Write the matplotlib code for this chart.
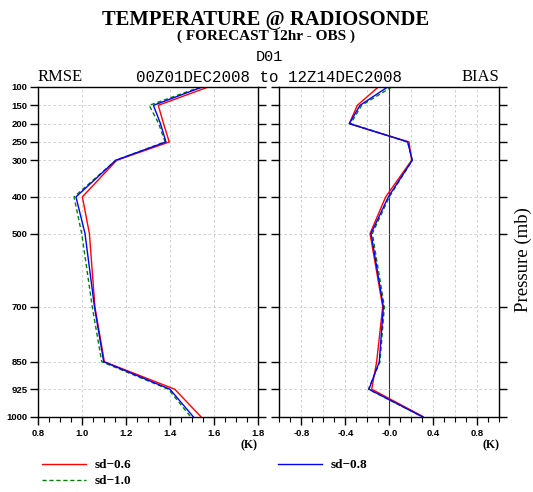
import matplotlib
matplotlib.use("Agg")
import matplotlib.pyplot as plt
from matplotlib.ticker import MultipleLocator, FixedLocator

# pressure levels (mb)
levels = [100, 150, 200, 250, 300, 400, 500, 700, 850, 925, 1000]

# RMSE (K)
rmse_sd06 = [1.575, 1.348, 1.372, 1.398, 1.159, 1.003, 1.035, 1.060, 1.103, 1.423, 1.542]
rmse_sd08 = [1.548, 1.326, 1.358, 1.383, 1.155, 0.974, 1.015, 1.058, 1.100, 1.401, 1.507]
rmse_sd10 = [1.540, 1.307, 1.350, 1.379, 1.155, 0.965, 1.000, 1.048, 1.091, 1.394, 1.495]

# BIAS (K)
bias_sd06 = [-0.100, -0.290, -0.364, 0.179, 0.203, -0.033, -0.175, -0.060, -0.115, -0.160, 0.309]
bias_sd08 = [-0.015, -0.266, -0.364, 0.167, 0.209, -0.009, -0.166, -0.054, -0.091, -0.185, 0.300]
bias_sd10 = [0.022, -0.251, -0.351, 0.167, 0.209, 0.000, -0.154, -0.045, -0.085, -0.190, 0.300]

rmse_ticks = [0.8, 1.0, 1.2, 1.4, 1.6, 1.8]
bias_ticks = [-0.8, -0.4, 0.0, 0.4, 0.8]
bias_labels = ["-0.8", "-0.4", "-0.0", "0.4", "0.8"]

W, H = 533, 492
fig = plt.figure(figsize=(W / 100, H / 100), dpi=100)

serif = "Liberation Serif"
mono = "Liberation Mono"
sans = "Liberation Sans"
gridc = "#c8c8c8"


def px(x, y):
    return x / W, 1 - y / H


def style_axes(ax):
    ax.set_ylim(1000, 100)
    ax.yaxis.set_major_locator(FixedLocator(levels))
    ax.tick_params(axis="y", which="both", direction="out", length=6, width=1,
                   left=True, right=True, pad=1.5, labelsize=6.8)
    ax.tick_params(axis="x", which="major", direction="out", length=6, width=1,
                   top=False, pad=2.5, labelsize=6.8)
    ax.tick_params(axis="x", which="minor", direction="out", length=3.5, width=0.8,
                   top=False)
    for lab in ax.get_xticklabels() + ax.get_yticklabels():
        lab.set_fontfamily(sans)
        lab.set_fontweight("bold")
    for sp in ax.spines.values():
        sp.set_linewidth(1.0)
    ax.grid(True, which="major", axis="y", color=gridc, ls=(0, (3, 3)), lw=0.6)


# ---- RMSE panel
ax1 = fig.add_axes([37.7 / W, 1 - 416.7 / H, 220 / W, 329.7 / H])
ax1.set_xlim(0.8, 1.8)
ax1.set_xticks(rmse_ticks)
ax1.xaxis.set_minor_locator(MultipleLocator(0.05))
for x in [1.0, 1.2, 1.4, 1.6]:
    ax1.axvline(x, color=gridc, ls=(0, (3, 3)), lw=0.6, zorder=0)
ax1.plot(rmse_sd06, levels, color="red", lw=1.0, label="sd\u22120.6")
ax1.plot(rmse_sd10, levels, color="green", lw=1.0, ls=(0, (3, 2)), label="sd\u22121.0")
ax1.plot(rmse_sd08, levels, color="blue", lw=1.0, label="sd\u22120.8")
style_axes(ax1)
ax1.set_title("RMSE", loc="left", fontfamily=serif, fontsize=12, pad=4)

# ---- BIAS panel
ax2 = fig.add_axes([279.3 / W, 1 - 416.7 / H, 220 / W, 329.7 / H])
ax2.set_xlim(-1.0, 1.0)
ax2.set_xticks(bias_ticks)
ax2.set_xticklabels(bias_labels)
ax2.xaxis.set_minor_locator(MultipleLocator(0.1))
for x in [-0.8, -0.6, -0.4, -0.2, 0.2, 0.4, 0.6, 0.8]:
    ax2.axvline(x, color=gridc, ls=(0, (3, 3)), lw=0.6, zorder=0)
ax2.axvline(0.0, color="#333333", lw=0.8, zorder=1)
ax2.plot(bias_sd06, levels, color="red", lw=1.0)
ax2.plot(bias_sd10, levels, color="green", lw=1.0, ls=(0, (3, 2)))
ax2.plot(bias_sd08, levels, color="blue", lw=1.0)
style_axes(ax2)
ax2.tick_params(axis="y", labelleft=False)
ax2.set_title("BIAS", loc="right", fontfamily=serif, fontsize=12, pad=4)

# units
for ax in (ax1, ax2):
    ax.text(1.0, -(439.0 - 416.7) / 329.7, "(K)", transform=ax.transAxes,
            ha="right", va="top",
            fontfamily=serif, fontweight="bold", fontsize=8.5)

# titles
fig.text(*px(266, 25), "TEMPERATURE @ RADIOSONDE", ha="center", va="baseline",
         fontfamily=serif, fontweight="bold", fontsize=14.8)
fig.text(*px(266, 40), "( FORECAST 12hr - OBS )", ha="center", va="baseline",
         fontfamily=serif, fontweight="bold", fontsize=11)
fig.text(*px(269, 61), "D01", ha="center", va="baseline",
         fontfamily=mono, fontsize=11)
fig.text(*px(268.5, 81.5), "00Z01DEC2008 to 12Z14DEC2008", ha="center", va="baseline",
         fontfamily=mono, fontsize=11.3)
fig.text(*px(523, 260), "Pressure (mb)", ha="center", va="center", rotation=90,
         fontfamily=serif, fontsize=13.5)

# legend
handles, labels = ax1.get_legend_handles_labels()
fig.legend(handles, labels, loc="upper left", bbox_to_anchor=px(42, 459),
           ncol=2, frameon=False, borderpad=0, borderaxespad=0,
           handlelength=3.33, handletextpad=0.68, columnspacing=11.1,
           labelspacing=0.3,
           prop={"family": serif, "weight": "bold", "size": 9.5})

fig.savefig("out.png", dpi=100)
